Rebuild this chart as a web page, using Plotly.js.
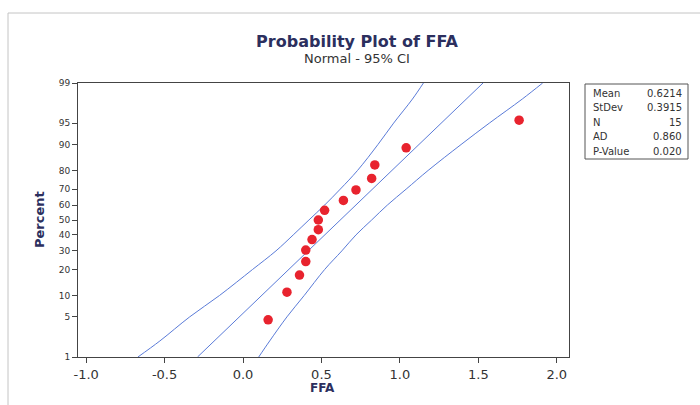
<!DOCTYPE html>
<html>
<head>
<meta charset="utf-8">
<script src="https://cdn.plot.ly/plotly-3.0.1.min.js"></script>
<style>
html,body{margin:0;padding:0;background:#fff;}
#chart{width:700px;height:405px;}
</style>
</head>
<body>
<div id="chart"></div>
<script>
// ---- data ----
var ffa = [0.16, 0.28, 0.36, 0.40, 0.40, 0.44, 0.48, 0.48, 0.52, 0.64, 0.72, 0.82, 0.84, 1.04, 1.76];
var ffaPercent = [4.5, 11.0, 17.5, 24.0, 30.5, 37.0, 43.5, 50.0, 56.5, 63.0, 69.5, 76.0, 82.5, 89.0, 95.5];

var linePercent = [1, 99];
var fitFFA = [-0.29, 1.53];

var bandPercent = [1, 2, 5, 10, 20, 30, 40, 50, 60, 70, 80, 90, 95, 98, 99];
var lowerBand = [-0.67, -0.53, -0.34, -0.15, 0.06, 0.21, 0.32, 0.42, 0.52, 0.62, 0.73, 0.86, 0.96, 1.08, 1.15];
var upperBand = [0.10, 0.17, 0.28, 0.39, 0.52, 0.63, 0.72, 0.82, 0.92, 1.04, 1.18, 1.39, 1.57, 1.78, 1.91];

var xTicks = [-1.0, -0.5, 0.0, 0.5, 1.0, 1.5, 2.0];
var xTickLabels = ['-1.0', '-0.5', '0.0', '0.5', '1.0', '1.5', '2.0'];
var yTicks = [1, 5, 10, 20, 30, 40, 50, 60, 70, 80, 90, 95, 99];
var yTickLabels = ['1', '5', '10', '20', '30', '40', '50', '60', '70', '80', '90', '95', '99'];

var statLabels = ['Mean', 'StDev', 'N', 'AD', 'P-Value'];
var statValues = ['0.6214', '0.3915', '15', '0.860', '0.020'];

// ---- normal probability scale (inverse normal CDF, Acklam) ----
function probit(p) {
  var a = [-3.969683028665376e+01, 2.209460984245205e+02, -2.759285104469687e+02, 1.383577518672690e+02, -3.066479806614716e+01, 2.506628277459239e+00];
  var b = [-5.447609879822406e+01, 1.615858368580409e+02, -1.556989798598866e+02, 6.680131188771972e+01, -1.328068155288572e+01];
  var c = [-7.784894002430293e-03, -3.223964580411365e-01, -2.400758277161838e+00, -2.549732539343734e+00, 4.374664141464968e+00, 2.938163982698783e+00];
  var d = [7.784695709041462e-03, 3.224671290700398e-01, 2.445134137142996e+00, 3.754408661907416e+00];
  var pl = 0.02425, q, r;
  if (p < pl) {
    q = Math.sqrt(-2 * Math.log(p));
    return (((((c[0]*q+c[1])*q+c[2])*q+c[3])*q+c[4])*q+c[5]) / ((((d[0]*q+d[1])*q+d[2])*q+d[3])*q+1);
  } else if (p <= 1 - pl) {
    q = p - 0.5; r = q * q;
    return (((((a[0]*r+a[1])*r+a[2])*r+a[3])*r+a[4])*r+a[5])*q / (((((b[0]*r+b[1])*r+b[2])*r+b[3])*r+b[4])*r+1);
  } else {
    q = Math.sqrt(-2 * Math.log(1 - p));
    return -(((((c[0]*q+c[1])*q+c[2])*q+c[3])*q+c[4])*q+c[5]) / ((((d[0]*q+d[1])*q+d[2])*q+d[3])*q+1);
  }
}
function toZ(arr) { return arr.map(function (v) { return probit(v / 100); }); }

var blue = '#5a7bd8';
var traces = [
  {x: lowerBand, y: toZ(bandPercent), mode: 'lines', line: {color: blue, width: 1, shape: 'spline'}, hoverinfo: 'skip'},
  {x: upperBand, y: toZ(bandPercent), mode: 'lines', line: {color: blue, width: 1, shape: 'spline'}, hoverinfo: 'skip'},
  {x: fitFFA, y: toZ(linePercent), mode: 'lines', line: {color: blue, width: 1}, hoverinfo: 'skip'},
  {x: ffa, y: toZ(ffaPercent), mode: 'markers', marker: {color: '#e8232e', size: 9.5}}
];

var L = 78, R = 569, T = 83, B = 357, W = 700, H = 405;
function px(x) { return (x - L) / (R - L); }
function py(y) { return (B - y) / (B - T); }

var navy = '#2c2f5e';
var annotations = [
  {text: 'Normal - 95% CI', x: px(357), y: py(58.5), xref: 'paper', yref: 'paper', showarrow: false, xanchor: 'center', yanchor: 'middle', font: {family: 'DejaVu Sans', size: 13, color: '#333'}},
  {text: '<b>Percent</b>', x: px(39), y: py(220), xref: 'paper', yref: 'paper', showarrow: false, textangle: -90, xanchor: 'center', yanchor: 'middle', font: {family: 'DejaVu Sans', size: 13, color: navy}},
  {text: '<b>FFA</b>', x: px(322), y: py(388), xref: 'paper', yref: 'paper', showarrow: false, xanchor: 'center', yanchor: 'middle', font: {family: 'DejaVu Sans', size: 12, color: navy}}
];
var rowsY = [93.3, 107.8, 122.3, 136.8, 151.3];
for (var i = 0; i < statLabels.length; i++) {
  annotations.push({text: statLabels[i], x: px(591), y: py(rowsY[i]), xref: 'paper', yref: 'paper', showarrow: false, xanchor: 'left', yanchor: 'middle', font: {family: 'DejaVu Sans', size: 10, color: '#333'}});
  annotations.push({text: statValues[i], x: px(684), y: py(rowsY[i]), xref: 'paper', yref: 'paper', showarrow: false, xanchor: 'right', yanchor: 'middle', font: {family: 'DejaVu Sans', size: 10, color: '#333'}});
}

var layout = {
  width: W, height: H,
  margin: {l: L, r: W - R, t: T, b: H - B, pad: 0},
  paper_bgcolor: '#fff', plot_bgcolor: '#fff',
  showlegend: false,
  title: {text: '<b>Probability Plot of FFA</b>', x: 357 / W, xanchor: 'center', y: 1 - 41.5 / H, yanchor: 'middle', font: {family: 'DejaVu Sans', size: 16, color: navy}},
  xaxis: {
    range: [-1.052, 2.078],
    tickmode: 'array', tickvals: xTicks, ticktext: xTickLabels,
    showgrid: false, zeroline: false,
    showline: true, linecolor: '#444', linewidth: 1, mirror: true,
    ticks: 'outside', ticklen: 5, tickcolor: '#444',
    tickfont: {family: 'DejaVu Sans', size: 13, color: '#333'}
  },
  yaxis: {
    range: [probit(0.01), probit(0.99)],
    tickmode: 'array', tickvals: toZ(yTicks), ticktext: yTickLabels,
    showgrid: false, zeroline: false,
    showline: true, linecolor: '#444', linewidth: 1, mirror: true,
    ticks: 'outside', ticklen: 5, tickcolor: '#444',
    tickfont: {family: 'DejaVu Sans', size: 9, color: '#333'}
  },
  shapes: [
    {type: 'rect', xref: 'paper', yref: 'paper', x0: px(8), x1: px(720), y0: py(430), y1: py(13), line: {color: '#c4c4c4', width: 1}, layer: 'below'},
    {type: 'rect', xref: 'paper', yref: 'paper', x0: px(585), x1: px(688), y0: py(159), y1: py(84), line: {color: '#555', width: 1}}
  ],
  annotations: annotations
};

Plotly.newPlot('chart', traces, layout, {displayModeBar: false, staticPlot: true});
</script>
</body>
</html>
